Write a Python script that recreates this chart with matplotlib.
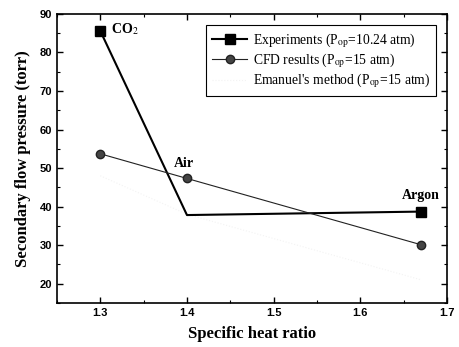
import matplotlib.pyplot as plt
from matplotlib.ticker import MultipleLocator

# specific heat ratio of each gas
gamma = [1.3, 1.4, 1.67]
gases = ["CO$_2$", "Air", "Argon"]

exp_pressure = [85.6, 37.8, 38.7]
cfd_pressure = [53.7, 47.3, 30.1]
emanuel_pressure = [48.0, 38.0, 21.0]

plt.rcParams["mathtext.fontset"] = "stix"

fig = plt.figure(figsize=(4.59, 3.47), dpi=100)
ax = fig.add_axes([0.124, 0.127, 0.850, 0.833])

serif = ["Liberation Serif", "DejaVu Serif"]

# Emanuel's method is barely visible in the original scan
ax.plot(gamma, emanuel_pressure, color="#f3f3f3", linestyle=":", linewidth=0.8,
        label="Emanuel's method (P$_{\\mathrm{op}}$=15 atm)")
ax.plot(gamma, exp_pressure, color="black", linewidth=1.5, marker="s",
        markersize=6.5, markevery=[0, 2],
        label="Experiments (P$_{\\mathrm{op}}$=10.24 atm)")
ax.plot(gamma, cfd_pressure, color="#222222", linewidth=0.8, marker="o",
        markersize=6, markerfacecolor="#444444", markeredgecolor="#222222",
        label="CFD results (P$_{\\mathrm{op}}$=15 atm)")

# gas labels
ax.text(gamma[0] + 0.012, exp_pressure[0] + 0.5, gases[0], family=serif,
        fontweight="bold", fontsize=10, ha="left", va="center")
ax.text(gamma[1] - 0.003, cfd_pressure[1] + 4, gases[1], family=serif,
        fontweight="bold", fontsize=10, ha="center", va="center")
ax.text(gamma[2], exp_pressure[2] + 4.3, gases[2], family=serif,
        fontweight="bold", fontsize=10, ha="center", va="center")

ax.set_xlim(1.25, 1.70)
ax.set_ylim(15, 90)
ax.xaxis.set_minor_locator(MultipleLocator(0.05))
ax.yaxis.set_minor_locator(MultipleLocator(5))
ax.set_xticks([1.3, 1.4, 1.5, 1.6, 1.7])
ax.set_yticks(range(20, 91, 10))
ax.tick_params(which="both", direction="in", top=True, right=True)
ax.tick_params(which="major", length=4, width=1)
ax.tick_params(which="minor", length=2, width=0.8)
for lbl in ax.get_xticklabels() + ax.get_yticklabels():
    lbl.set_fontweight("bold")
    lbl.set_fontsize(8)
    lbl.set_family(["Liberation Sans", "DejaVu Sans"])
for sp in ax.spines.values():
    sp.set_linewidth(1.2)

ax.set_xlabel("Specific heat ratio", family=serif, fontweight="bold", fontsize=12,
              labelpad=6)
ax.set_ylabel("Secondary flow pressure (torr)", family=serif, fontweight="bold",
              fontsize=12, labelpad=6)

handles, labels = ax.get_legend_handles_labels()
order = [1, 2, 0]
leg = ax.legend([handles[i] for i in order], [labels[i] for i in order],
                loc="upper right", bbox_to_anchor=(0.99, 0.985),
                prop={"family": serif, "size": 9.8}, fancybox=False,
                framealpha=1, edgecolor="black", handlelength=2.6,
                handletextpad=0.4, borderpad=0.45, labelspacing=0.12)
leg.get_frame().set_linewidth(0.8)

fig.savefig("out.png", dpi=100)
